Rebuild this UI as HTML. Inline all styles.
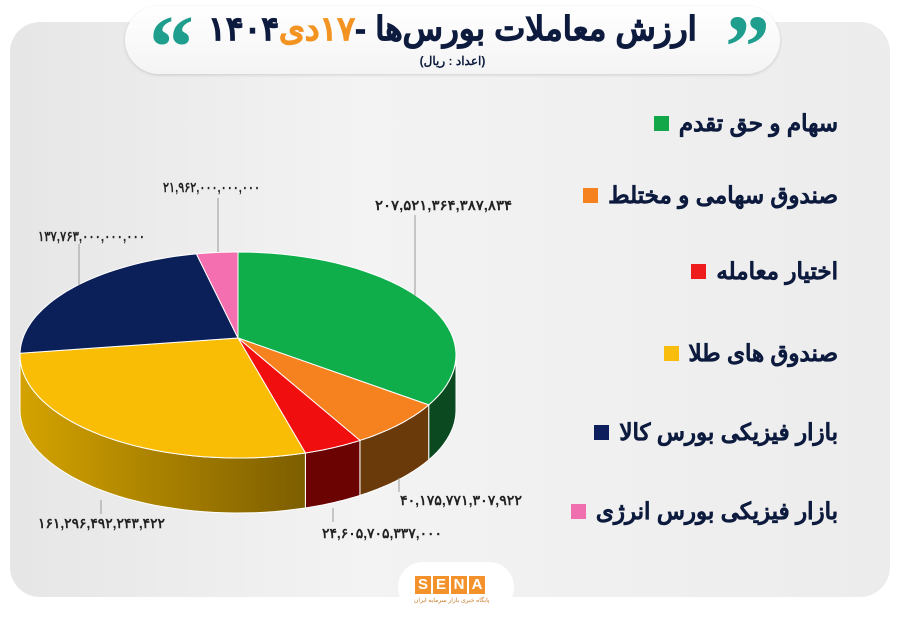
<!DOCTYPE html>
<html><head><meta charset="utf-8">
<style>
html,body{margin:0;padding:0;background:#fff;}
body{width:900px;height:623px;position:relative;overflow:hidden;font-family:"Liberation Sans","Noto Sans CJK SC",sans-serif;}
.panel{position:absolute;left:10px;top:22px;width:880px;height:575px;border-radius:30px;background:linear-gradient(90deg,#e6e6e6,#f3f3f3 40%,#ececec);}
.title{position:absolute;left:125px;top:6px;width:655px;height:68px;border-radius:34px;background:linear-gradient(#fff,#f4f4f4);box-shadow:0 1px 3px rgba(0,0,0,.15);}
.t1{position:absolute;left:0;right:0;top:3px;text-align:center;font-size:33px;font-weight:bold;color:#0d1b3e;direction:rtl;-webkit-text-stroke:0.8px #0d1b3e;}
.t1 span{color:#f39321;-webkit-text-stroke:0.8px #f39321;}
.t2{position:absolute;left:0;right:0;top:48px;text-align:center;font-size:12px;font-weight:bold;color:#0d1b3e;}
.q{position:absolute;top:-3px;font-size:90px;font-weight:bold;color:#1f9e8e;font-family:"Liberation Serif",serif;line-height:1;}
.leg{position:absolute;right:62px;font-size:23px;font-weight:bold;color:#0d1b3e;direction:rtl;display:flex;align-items:center;gap:10px;-webkit-text-stroke:0.4px #0d1b3e;}
.leg i{display:inline-block;width:15px;height:15px;}
.logo{position:absolute;left:398px;top:562px;width:116px;height:50px;border-radius:25px;background:#fff;}
.sena{position:absolute;left:415px;top:576px;display:flex;gap:2px;}
.sena b{background:#f3922a;color:#fff;font-size:15px;width:16px;height:18px;text-align:center;line-height:18px;}
</style></head><body>
<div class="panel"></div>
<div class="title">
 <div class="q" style="left:24px">&#8220;</div>
 <div class="q" style="right:10px">&#8221;</div>
 <div class="t1">ارزش معاملات بورس‌ها -<span>۱۷دی</span>۱۴۰۴</div>
 <div class="t2">(اعداد : ریال)</div>
</div>
<svg id="pie" width="900" height="623" style="position:absolute;left:0;top:0">
<defs><linearGradient id="yg" x1="0" x2="1"><stop offset="0" stop-color="#d4a300"/><stop offset="1" stop-color="#7d5e00"/></linearGradient></defs>
</svg>
<div class="leg" style="top:110px">سهام و حق تقدم<i style="background:#12a84a"></i></div>
<div class="leg" style="top:182px">صندوق سهامی و مختلط<i style="background:#f5821f"></i></div>
<div class="leg" style="top:258px">اختیار معامله<i style="background:#ee1c1c"></i></div>
<div class="leg" style="top:340px">صندوق های طلا<i style="background:#f9bd0e"></i></div>
<div class="leg" style="top:419px">بازار فیزیکی بورس کالا<i style="background:#0d1f5c"></i></div>
<div class="leg" style="top:498px">بازار فیزیکی بورس انرژی<i style="background:#f06fae"></i></div>
<div class="logo"></div>
<div class="sena"><b>S</b><b>E</b><b>N</b><b>A</b></div>
<div style="position:absolute;left:414px;top:597px;font-size:6px;color:#c77a2a">پایگاه خبری بازار سرمایه ایران</div>
<script>
var svg=document.getElementById('pie'),NS='http://www.w3.org/2000/svg';
var cx=238,cy=355,rx=218,ry=103,ax=238,ay=338,D=55;
function P(t,d){t=t*Math.PI/180;return [cx+rx*Math.cos(t),cy+ry*Math.sin(t)+(d||0)];}
function add(d,f,s){var p=document.createElementNS(NS,'path');p.setAttribute('d',d);p.setAttribute('fill',f);if(s){p.setAttribute('stroke',s);p.setAttribute('stroke-width','1');}svg.appendChild(p);}
function arc(a,b,d){var s='',n=40;for(var i=0;i<=n;i++){var q=P(a+(b-a)*i/n,d);s+=(i?'L':'')+q[0].toFixed(1)+','+q[1].toFixed(1);}return s;}
var sl=[[-90,29,'#0fae4b','#0b4a20'],[29,56,'#f5821f','#6b3a0a'],[56,72,'#f00e0e','#6b0303'],[72,181,'#fabd05','url(#yg)'],[181,259,'#0b2058','#061030'],[259,270,'#f36fb0','#8a3a60']];
sl.forEach(function(s){var a=Math.max(s[0],0),b=Math.min(s[1],180);if(b>a){add('M'+arc(a,b,0)+'L'+arc(b,a,D)+'Z',s[3],'#fff');}});
sl.forEach(function(s){add('M'+ax+','+ay+'L'+arc(s[0],s[1],0)+'Z',s[2],'#fff');});
[[415,215,415,296],[218,198,218,252],[79,244,79,285],[399,478,399,492],[333,508,333,522],[101,500,101,514]].forEach(function(l){var e=document.createElementNS(NS,'line');e.setAttribute('x1',l[0]);e.setAttribute('y1',l[1]);e.setAttribute('x2',l[2]);e.setAttribute('y2',l[3]);e.setAttribute('stroke','#999');svg.appendChild(e);});
[['۲۰۷,۵۲۱,۳۶۴,۳۸۷,۸۳۴',375,210,137],['۲۱,۹۶۲,۰۰۰,۰۰۰,۰۰۰',163,192,97],['۱۳۷,۷۶۳,۰۰۰,۰۰۰,۰۰۰',38,241,107],['۴۰,۱۷۵,۷۷۱,۳۰۷,۹۲۲',400,505,122],['۲۴,۶۰۵,۷۰۵,۳۳۷,۰۰۰',322,538,120],['۱۶۱,۲۹۶,۴۹۲,۲۴۳,۴۲۲',38,528,127]].forEach(function(l){var t=document.createElementNS(NS,'text');t.textContent=l[0];t.setAttribute('x',l[1]);t.setAttribute('y',l[2]);t.setAttribute('textLength',l[3]);t.setAttribute('lengthAdjust','spacingAndGlyphs');t.setAttribute('font-size','14');t.setAttribute('font-weight','bold');t.setAttribute('fill','#222');t.setAttribute('direction','ltr');svg.appendChild(t);});
</script>
</body></html>
